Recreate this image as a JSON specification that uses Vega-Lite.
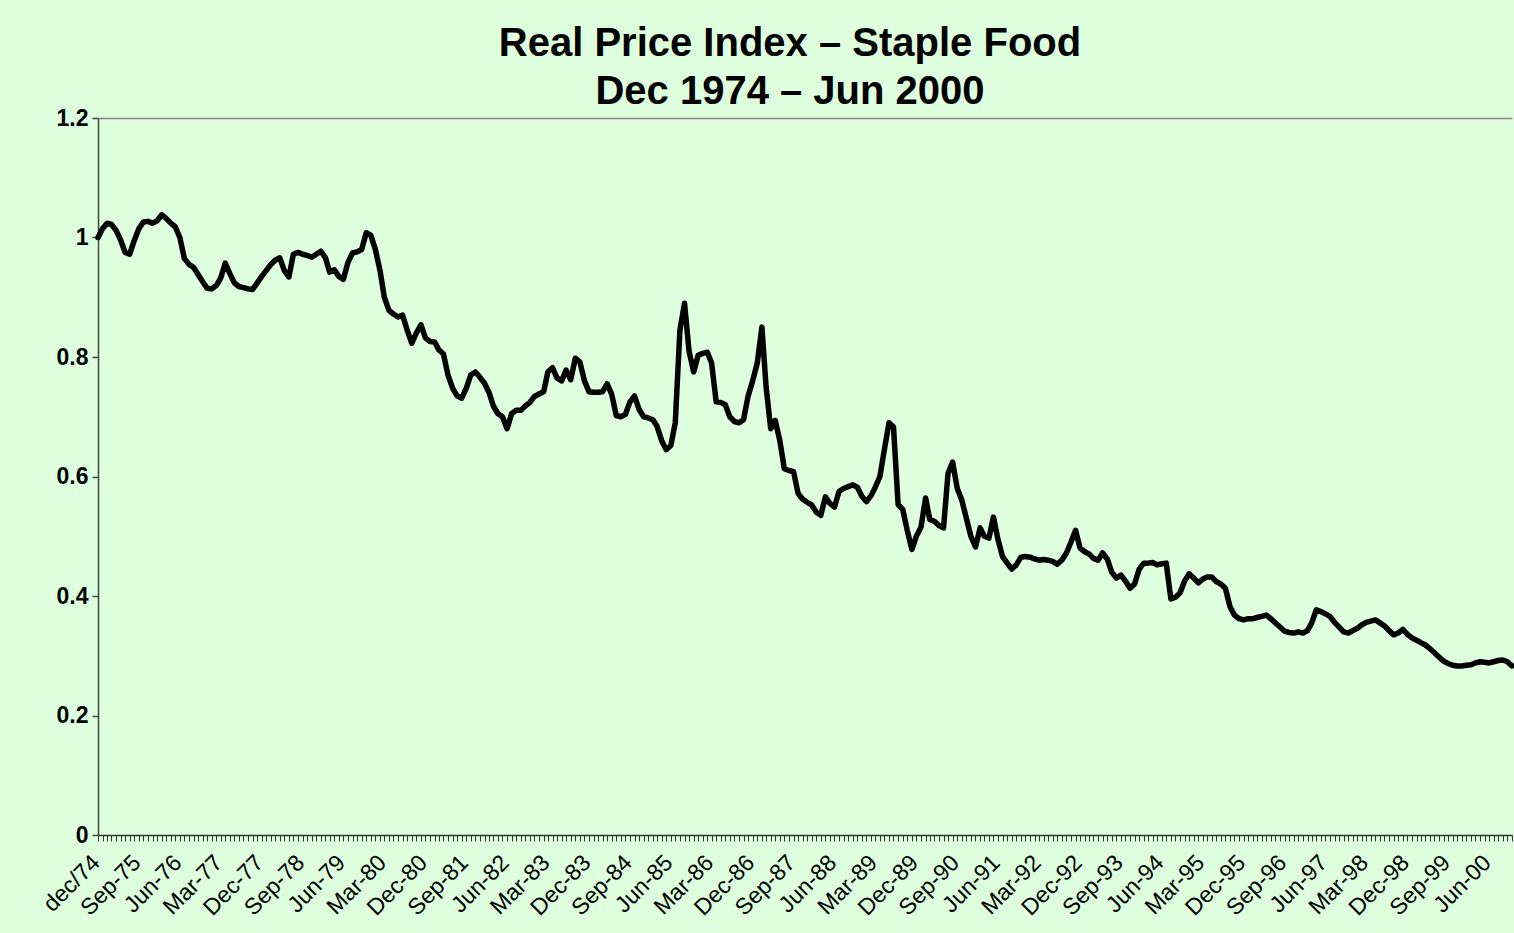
{
  "$schema": "https://vega.github.io/schema/vega-lite/v6.json",
  "width": 1414,
  "height": 717,
  "autosize": "none",
  "padding": {"left": 98, "top": 118, "right": 2, "bottom": 98},
  "background": "#ddffdd",
  "config": {"view": {"stroke": null}},
  "title": {
    "text": ["Real Price Index – Staple Food", "Dec 1974 – Jun 2000"],
    "font": "Liberation Sans",
    "fontSize": 40,
    "fontWeight": "bold",
    "color": "#000000",
    "lineHeight": 48,
    "anchor": "middle",
    "frame": "group",
    "baseline": "bottom",
    "offset": 0,
    "dx": -15,
    "dy": 45
  },
  "data": {
    "values": [
      {"m":"1974-12-01","v":1.000},
      {"m":"1975-01-01","v":1.015},{"m":"1975-02-01","v":1.024},{"m":"1975-03-01","v":1.022},{"m":"1975-04-01","v":1.012},{"m":"1975-05-01","v":0.996},{"m":"1975-06-01","v":0.975},{"m":"1975-07-01","v":0.972},{"m":"1975-08-01","v":0.995},{"m":"1975-09-01","v":1.015},{"m":"1975-10-01","v":1.026},{"m":"1975-11-01","v":1.027},{"m":"1975-12-01","v":1.024},
      {"m":"1976-01-01","v":1.028},{"m":"1976-02-01","v":1.038},{"m":"1976-03-01","v":1.032},{"m":"1976-04-01","v":1.024},{"m":"1976-05-01","v":1.018},{"m":"1976-06-01","v":1.000},{"m":"1976-07-01","v":0.965},{"m":"1976-08-01","v":0.955},{"m":"1976-09-01","v":0.950},{"m":"1976-10-01","v":0.938},{"m":"1976-11-01","v":0.926},{"m":"1976-12-01","v":0.915},
      {"m":"1977-01-01","v":0.914},{"m":"1977-02-01","v":0.920},{"m":"1977-03-01","v":0.932},{"m":"1977-04-01","v":0.957},{"m":"1977-05-01","v":0.940},{"m":"1977-06-01","v":0.924},{"m":"1977-07-01","v":0.918},{"m":"1977-08-01","v":0.916},{"m":"1977-09-01","v":0.914},{"m":"1977-10-01","v":0.913},{"m":"1977-11-01","v":0.924},{"m":"1977-12-01","v":0.935},
      {"m":"1978-01-01","v":0.945},{"m":"1978-02-01","v":0.955},{"m":"1978-03-01","v":0.962},{"m":"1978-04-01","v":0.966},{"m":"1978-05-01","v":0.945},{"m":"1978-06-01","v":0.934},{"m":"1978-07-01","v":0.972},{"m":"1978-08-01","v":0.975},{"m":"1978-09-01","v":0.972},{"m":"1978-10-01","v":0.970},{"m":"1978-11-01","v":0.967},{"m":"1978-12-01","v":0.972},
      {"m":"1979-01-01","v":0.977},{"m":"1979-02-01","v":0.966},{"m":"1979-03-01","v":0.942},{"m":"1979-04-01","v":0.946},{"m":"1979-05-01","v":0.935},{"m":"1979-06-01","v":0.930},{"m":"1979-07-01","v":0.958},{"m":"1979-08-01","v":0.974},{"m":"1979-09-01","v":0.976},{"m":"1979-10-01","v":0.980},{"m":"1979-11-01","v":1.008},{"m":"1979-12-01","v":1.004},
      {"m":"1980-01-01","v":0.980},{"m":"1980-02-01","v":0.945},{"m":"1980-03-01","v":0.900},{"m":"1980-04-01","v":0.878},{"m":"1980-05-01","v":0.872},{"m":"1980-06-01","v":0.867},{"m":"1980-07-01","v":0.870},{"m":"1980-08-01","v":0.845},{"m":"1980-09-01","v":0.823},{"m":"1980-10-01","v":0.840},{"m":"1980-11-01","v":0.854},{"m":"1980-12-01","v":0.832},
      {"m":"1981-01-01","v":0.826},{"m":"1981-02-01","v":0.825},{"m":"1981-03-01","v":0.812},{"m":"1981-04-01","v":0.805},{"m":"1981-05-01","v":0.770},{"m":"1981-06-01","v":0.748},{"m":"1981-07-01","v":0.735},{"m":"1981-08-01","v":0.731},{"m":"1981-09-01","v":0.748},{"m":"1981-10-01","v":0.770},{"m":"1981-11-01","v":0.775},{"m":"1981-12-01","v":0.766},
      {"m":"1982-01-01","v":0.756},{"m":"1982-02-01","v":0.740},{"m":"1982-03-01","v":0.718},{"m":"1982-04-01","v":0.705},{"m":"1982-05-01","v":0.700},{"m":"1982-06-01","v":0.680},{"m":"1982-07-01","v":0.705},{"m":"1982-08-01","v":0.711},{"m":"1982-09-01","v":0.711},{"m":"1982-10-01","v":0.718},{"m":"1982-11-01","v":0.724},{"m":"1982-12-01","v":0.734},
      {"m":"1983-01-01","v":0.738},{"m":"1983-02-01","v":0.742},{"m":"1983-03-01","v":0.775},{"m":"1983-04-01","v":0.782},{"m":"1983-05-01","v":0.765},{"m":"1983-06-01","v":0.760},{"m":"1983-07-01","v":0.778},{"m":"1983-08-01","v":0.762},{"m":"1983-09-01","v":0.798},{"m":"1983-10-01","v":0.792},{"m":"1983-11-01","v":0.760},{"m":"1983-12-01","v":0.742},
      {"m":"1984-01-01","v":0.741},{"m":"1984-02-01","v":0.741},{"m":"1984-03-01","v":0.742},{"m":"1984-04-01","v":0.755},{"m":"1984-05-01","v":0.738},{"m":"1984-06-01","v":0.702},{"m":"1984-07-01","v":0.700},{"m":"1984-08-01","v":0.704},{"m":"1984-09-01","v":0.725},{"m":"1984-10-01","v":0.735},{"m":"1984-11-01","v":0.712},{"m":"1984-12-01","v":0.700},
      {"m":"1985-01-01","v":0.698},{"m":"1985-02-01","v":0.695},{"m":"1985-03-01","v":0.684},{"m":"1985-04-01","v":0.660},{"m":"1985-05-01","v":0.645},{"m":"1985-06-01","v":0.652},{"m":"1985-07-01","v":0.690},{"m":"1985-08-01","v":0.845},{"m":"1985-09-01","v":0.890},{"m":"1985-10-01","v":0.810},{"m":"1985-11-01","v":0.775},{"m":"1985-12-01","v":0.803},
      {"m":"1986-01-01","v":0.806},{"m":"1986-02-01","v":0.808},{"m":"1986-03-01","v":0.790},{"m":"1986-04-01","v":0.725},{"m":"1986-05-01","v":0.724},{"m":"1986-06-01","v":0.720},{"m":"1986-07-01","v":0.700},{"m":"1986-08-01","v":0.692},{"m":"1986-09-01","v":0.690},{"m":"1986-10-01","v":0.695},{"m":"1986-11-01","v":0.735},{"m":"1986-12-01","v":0.760},
      {"m":"1987-01-01","v":0.790},{"m":"1987-02-01","v":0.850},{"m":"1987-03-01","v":0.750},{"m":"1987-04-01","v":0.680},{"m":"1987-05-01","v":0.694},{"m":"1987-06-01","v":0.660},{"m":"1987-07-01","v":0.613},{"m":"1987-08-01","v":0.610},{"m":"1987-09-01","v":0.608},{"m":"1987-10-01","v":0.572},{"m":"1987-11-01","v":0.562},{"m":"1987-12-01","v":0.557},
      {"m":"1988-01-01","v":0.552},{"m":"1988-02-01","v":0.540},{"m":"1988-03-01","v":0.535},{"m":"1988-04-01","v":0.566},{"m":"1988-05-01","v":0.555},{"m":"1988-06-01","v":0.549},{"m":"1988-07-01","v":0.575},{"m":"1988-08-01","v":0.580},{"m":"1988-09-01","v":0.583},{"m":"1988-10-01","v":0.586},{"m":"1988-11-01","v":0.582},{"m":"1988-12-01","v":0.567},
      {"m":"1989-01-01","v":0.558},{"m":"1989-02-01","v":0.568},{"m":"1989-03-01","v":0.582},{"m":"1989-04-01","v":0.600},{"m":"1989-05-01","v":0.645},{"m":"1989-06-01","v":0.690},{"m":"1989-07-01","v":0.683},{"m":"1989-08-01","v":0.553},{"m":"1989-09-01","v":0.545},{"m":"1989-10-01","v":0.510},{"m":"1989-11-01","v":0.478},{"m":"1989-12-01","v":0.500},
      {"m":"1990-01-01","v":0.515},{"m":"1990-02-01","v":0.564},{"m":"1990-03-01","v":0.528},{"m":"1990-04-01","v":0.525},{"m":"1990-05-01","v":0.518},{"m":"1990-06-01","v":0.514},{"m":"1990-07-01","v":0.605},{"m":"1990-08-01","v":0.624},{"m":"1990-09-01","v":0.580},{"m":"1990-10-01","v":0.561},{"m":"1990-11-01","v":0.530},{"m":"1990-12-01","v":0.500},
      {"m":"1991-01-01","v":0.482},{"m":"1991-02-01","v":0.514},{"m":"1991-03-01","v":0.500},{"m":"1991-04-01","v":0.497},{"m":"1991-05-01","v":0.532},{"m":"1991-06-01","v":0.494},{"m":"1991-07-01","v":0.466},{"m":"1991-08-01","v":0.455},{"m":"1991-09-01","v":0.445},{"m":"1991-10-01","v":0.452},{"m":"1991-11-01","v":0.465},{"m":"1991-12-01","v":0.466},
      {"m":"1992-01-01","v":0.465},{"m":"1992-02-01","v":0.462},{"m":"1992-03-01","v":0.460},{"m":"1992-04-01","v":0.461},{"m":"1992-05-01","v":0.460},{"m":"1992-06-01","v":0.458},{"m":"1992-07-01","v":0.453},{"m":"1992-08-01","v":0.460},{"m":"1992-09-01","v":0.472},{"m":"1992-10-01","v":0.490},{"m":"1992-11-01","v":0.510},{"m":"1992-12-01","v":0.480},
      {"m":"1993-01-01","v":0.474},{"m":"1993-02-01","v":0.470},{"m":"1993-03-01","v":0.463},{"m":"1993-04-01","v":0.460},{"m":"1993-05-01","v":0.472},{"m":"1993-06-01","v":0.462},{"m":"1993-07-01","v":0.440},{"m":"1993-08-01","v":0.430},{"m":"1993-09-01","v":0.435},{"m":"1993-10-01","v":0.425},{"m":"1993-11-01","v":0.413},{"m":"1993-12-01","v":0.420},
      {"m":"1994-01-01","v":0.445},{"m":"1994-02-01","v":0.455},{"m":"1994-03-01","v":0.455},{"m":"1994-04-01","v":0.456},{"m":"1994-05-01","v":0.452},{"m":"1994-06-01","v":0.454},{"m":"1994-07-01","v":0.455},{"m":"1994-08-01","v":0.395},{"m":"1994-09-01","v":0.398},{"m":"1994-10-01","v":0.405},{"m":"1994-11-01","v":0.425},{"m":"1994-12-01","v":0.437},
      {"m":"1995-01-01","v":0.430},{"m":"1995-02-01","v":0.422},{"m":"1995-03-01","v":0.428},{"m":"1995-04-01","v":0.432},{"m":"1995-05-01","v":0.432},{"m":"1995-06-01","v":0.424},{"m":"1995-07-01","v":0.420},{"m":"1995-08-01","v":0.413},{"m":"1995-09-01","v":0.382},{"m":"1995-10-01","v":0.368},{"m":"1995-11-01","v":0.362},{"m":"1995-12-01","v":0.360},
      {"m":"1996-01-01","v":0.362},{"m":"1996-02-01","v":0.362},{"m":"1996-03-01","v":0.364},{"m":"1996-04-01","v":0.366},{"m":"1996-05-01","v":0.368},{"m":"1996-06-01","v":0.362},{"m":"1996-07-01","v":0.355},{"m":"1996-08-01","v":0.348},{"m":"1996-09-01","v":0.341},{"m":"1996-10-01","v":0.339},{"m":"1996-11-01","v":0.338},{"m":"1996-12-01","v":0.340},
      {"m":"1997-01-01","v":0.338},{"m":"1997-02-01","v":0.342},{"m":"1997-03-01","v":0.355},{"m":"1997-04-01","v":0.377},{"m":"1997-05-01","v":0.374},{"m":"1997-06-01","v":0.370},{"m":"1997-07-01","v":0.366},{"m":"1997-08-01","v":0.356},{"m":"1997-09-01","v":0.348},{"m":"1997-10-01","v":0.340},{"m":"1997-11-01","v":0.338},{"m":"1997-12-01","v":0.342},
      {"m":"1998-01-01","v":0.346},{"m":"1998-02-01","v":0.352},{"m":"1998-03-01","v":0.356},{"m":"1998-04-01","v":0.358},{"m":"1998-05-01","v":0.360},{"m":"1998-06-01","v":0.355},{"m":"1998-07-01","v":0.350},{"m":"1998-08-01","v":0.342},{"m":"1998-09-01","v":0.335},{"m":"1998-10-01","v":0.338},{"m":"1998-11-01","v":0.344},{"m":"1998-12-01","v":0.336},
      {"m":"1999-01-01","v":0.330},{"m":"1999-02-01","v":0.326},{"m":"1999-03-01","v":0.322},{"m":"1999-04-01","v":0.318},{"m":"1999-05-01","v":0.312},{"m":"1999-06-01","v":0.305},{"m":"1999-07-01","v":0.298},{"m":"1999-08-01","v":0.291},{"m":"1999-09-01","v":0.287},{"m":"1999-10-01","v":0.284},{"m":"1999-11-01","v":0.283},{"m":"1999-12-01","v":0.283},
      {"m":"2000-01-01","v":0.284},{"m":"2000-02-01","v":0.285},{"m":"2000-03-01","v":0.288},{"m":"2000-04-01","v":0.290},{"m":"2000-05-01","v":0.289},{"m":"2000-06-01","v":0.288},{"m":"2000-07-01","v":0.290},{"m":"2000-08-01","v":0.292},{"m":"2000-09-01","v":0.293},{"m":"2000-10-01","v":0.290},{"m":"2000-11-01","v":0.283}
    ]
  },
  "mark": {"type": "line", "color": "#000000", "strokeWidth": 5.5, "strokeJoin": "round", "strokeCap": "round", "clip": false},
  "encoding": {
    "x": {
      "field": "m",
      "type": "temporal",
      "scale": {
        "type": "utc",
        "domain": [{"year": 1974, "month": 12, "date": 1, "utc": true}, {"year": 2000, "month": 11, "date": 1, "utc": true}],
        "nice": false
      },
      "axis": {
        "title": null,
        "orient": "bottom",
        "grid": false,
        "tickCount": {"interval": "month", "step": 1},
        "labelExpr": "((utcyear(datum.value) - 1974) * 12 + utcmonth(datum.value) - 11) % 9 == 0 ? (utcyear(datum.value) == 1974 ? 'dec/74' : utcFormat(datum.value, '%b-%y')) : ''",
        "labelOverlap": false,
        "labelFlush": false,
        "labelBound": false,
        "labelAngle": -45,
        "labelAlign": "right",
        "labelBaseline": "top",
        "labelFont": "Liberation Sans",
        "labelFontSize": 23,
        "labelColor": "#000000",
        "labelPadding": 10,
        "labelOffset": -10,
        "tickSize": 6,
        "tickColor": "#333333",
        "tickWidth": 1,
        "domainColor": "#333333",
        "domainWidth": 1.5
      }
    },
    "y": {
      "field": "v",
      "type": "quantitative",
      "scale": {"domain": [0, 1.2], "nice": false, "zero": true},
      "axis": {
        "title": null,
        "values": [0, 0.2, 0.4, 0.6, 0.8, 1, 1.2],
        "format": "~g",
        "labelFont": "Liberation Sans",
        "labelFontSize": 23,
        "labelFontWeight": "bold",
        "labelColor": "#000000",
        "labelPadding": 4,
        "tickSize": 6,
        "tickColor": "#444444",
        "tickWidth": 1.5,
        "domainColor": "#444444",
        "domainWidth": 1.5,
        "grid": true,
        "gridColor": "#888888",
        "gridWidth": 1.5,
        "gridOpacity": {"condition": {"test": "datum.value > 1.1", "value": 1}, "value": 0}
      }
    }
  }
}
